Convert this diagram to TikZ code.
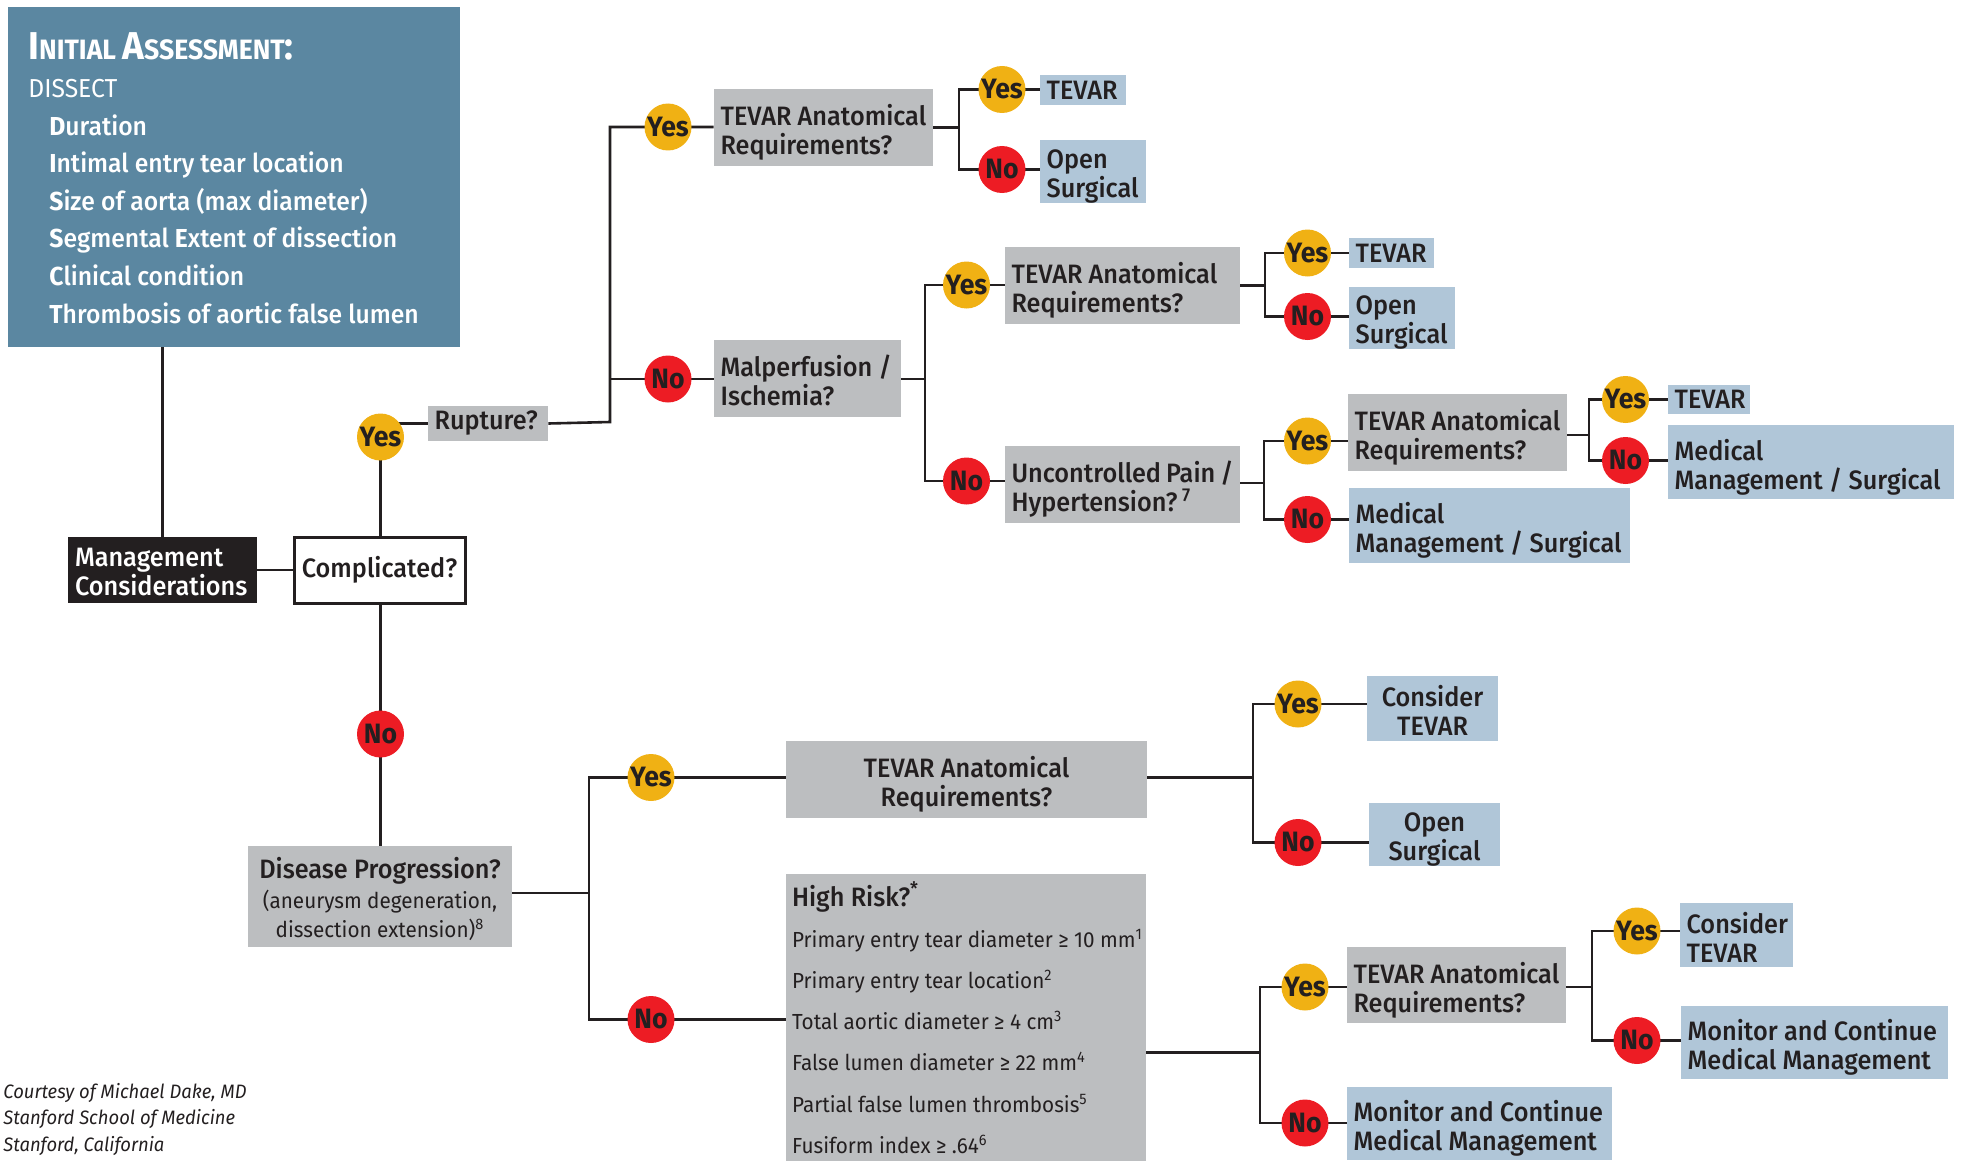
\documentclass[tikz,border=0pt]{standalone}
\usepackage{fontspec}
\setmainfont{Fira Sans}[FakeStretch=0.95]
\newfontfamily\medfont{Fira Sans}[UprightFont=* Medium, BoldFont=* Bold, FakeStretch=0.95]
\usetikzlibrary{backgrounds}

\definecolor{assessblue}{HTML}{5B87A1}
\definecolor{askgray}{HTML}{BCBEC0}
\definecolor{endblue}{HTML}{B0C6D8}
\definecolor{yesgold}{HTML}{F0B114}
\definecolor{nored}{HTML}{ED1C24}
\definecolor{ink}{HTML}{231F20}

\newcommand{\asksize}{\fontsize{13.3pt}{14.5pt}\selectfont}
\newcommand{\notesize}{\fontsize{10.9pt}{15pt}\selectfont}

\begin{document}
\begin{tikzpicture}[x=0.5pt,y=-0.5pt,
   every node/.style={text=ink,font=\medfont\asksize},
   askbox/.style={fill=askgray,inner xsep=3.3pt,inner ysep=0pt,align=flush left},
   endbox/.style={fill=endblue,inner xsep=3.3pt,inner ysep=0pt,align=flush left},
   twoline/.style={text depth=12.5pt},
   yesdot/.style={circle,fill=yesgold,minimum size=23.5pt,inner sep=0pt,font=\medfont\bfseries\fontsize{14pt}{14pt}\selectfont},
   nodot/.style={yesdot,fill=nored},
   link/.style={draw=ink,line width=1.3pt}]
\useasboundingbox (0,0) rectangle (1965,1161);

% initial assessment
\node[fill=assessblue,minimum width=226pt,minimum height=170pt,inner sep=0pt] (assess) at (234,177) {};
\node[anchor=base west,text=white,text width=210pt,align=flush left,inner sep=0pt,font=\medfont\fontsize{13pt}{18.8pt}\selectfont] (dissect) at (28,60)
  {{\bfseries\fontsize{19.4pt}{18.8pt}\selectfont I\fontsize{14pt}{18.8pt}\selectfont NITIAL \fontsize{19.4pt}{18.8pt}\selectfont A\fontsize{14pt}{18.8pt}\selectfont SSESSMENT\fontsize{19.4pt}{18.8pt}\selectfont:}\\
   {\rmfamily DISSECT}\\
   \hspace*{10.5pt}\textbf{D}uration\\
   \hspace*{10.5pt}\textbf{I}ntimal entry tear location\\
   \hspace*{10.5pt}\textbf{S}ize of aorta (max diameter)\\
   \hspace*{10.5pt}\textbf{S}egmental \textbf{E}xtent of dissection\\
   \hspace*{10.5pt}\textbf{C}linical condition\\
   \hspace*{10.5pt}\textbf{T}hrombosis of aortic false lumen};

% root
\node[twoline,fill=ink,text=white,minimum width=94.5pt,minimum height=33pt,text width=87.5pt,inner xsep=3.5pt,inner ysep=0pt,align=flush left] (mgmt) at (162.5,570) {Management\\Considerations};
\node[draw=ink,line width=1.5pt,fill=white,minimum width=85.5pt,minimum height=33pt] (complicated) at (379.5,570) {Complicated?};
\node[yesdot] (cy) at (380.5,437) {Yes};
\node[nodot] (cn) at (380.5,734) {No};
\node[askbox,minimum width=60pt,minimum height=17.5pt,text width=53.4pt] (rupture) at (488,423.5) {Rupture?};
\node[askbox,align=flush center,text depth=28.4pt,minimum width=132pt,minimum height=50.5pt,text width=125.4pt] (disease) at (380,896.5)
  {Disease~Progression?\\\rmfamily\notesize(aneurysm~degeneration,\\dissection~extension)\textsuperscript{8}};

% complicated, yes
\coordinate (jr) at (610,422);
\node[yesdot] (ry) at (668,127) {Yes};
\node[nodot] (rn) at (668,379) {No};
\node[askbox,twoline,minimum width=109.5pt,minimum height=38.5pt,text width=102.9pt] (tevarA) at (823.5,127.5) {TEVAR~Anatomical\\Requirements?};
\node[askbox,twoline,minimum width=93.5pt,minimum height=38.5pt,text width=86.9pt] (malp) at (807.5,378.5) {Malperfusion~/\\Ischemia?};

\coordinate (ja) at (959,127.5);
\node[yesdot] (ay) at (1002,89.5) {Yes};
\node[nodot] (an) at (1002,169.5) {No};
\node[endbox,minimum width=43pt,minimum height=15pt,text width=36.4pt] (tevar1) at (1083,90) {TEVAR};
\node[endbox,twoline,minimum width=53pt,minimum height=31.5pt,text width=46.4pt] (open1) at (1093,171.5) {Open\\Surgical};

\coordinate (jm) at (925,379);
\node[yesdot] (my) at (966.5,285) {Yes};
\node[nodot] (mn) at (966.5,481) {No};
\node[askbox,twoline,minimum width=117.5pt,minimum height=38.5pt,text width=110.9pt] (tevarB) at (1122.5,285.5) {TEVAR~Anatomical\\Requirements?};
\node[askbox,twoline,minimum width=117.5pt,minimum height=38.5pt,text width=110.9pt] (pain) at (1122.5,484.5) {Uncontrolled~Pain~/\\Hypertension?\,\textsuperscript{7}};

\coordinate (jb) at (1265,285.5);
\node[yesdot] (by) at (1307.5,253) {Yes};
\node[nodot] (bn) at (1307.5,316.5) {No};
\node[endbox,minimum width=42.5pt,minimum height=15pt,text width=35.9pt] (tevar2) at (1391.5,253) {TEVAR};
\node[endbox,twoline,minimum width=53pt,minimum height=31pt,text width=46.4pt] (open2) at (1402,318) {Open\\Surgical};

\coordinate (jp) at (1264,483);
\node[yesdot] (py) at (1307.5,441) {Yes};
\node[nodot] (pn) at (1307.5,519.5) {No};
\node[askbox,twoline,minimum width=109.5pt,minimum height=38.5pt,text width=102.9pt] (tevarC) at (1457.5,432.5) {TEVAR~Anatomical\\Requirements?};
\node[endbox,twoline,minimum width=140.5pt,minimum height=37.5pt,text width=133.9pt] (medical2) at (1489.5,525.5) {Medical\\Management~/~Surgical};

\coordinate (jk) at (1589,435);
\node[yesdot] (ky) at (1625.5,399.5) {Yes};
\node[nodot] (kn) at (1625.5,460.5) {No};
\node[endbox,minimum width=41pt,minimum height=14.5pt,text width=34.4pt] (tevar3) at (1709,399.5) {TEVAR};
\node[endbox,twoline,minimum width=143pt,minimum height=37pt,text width=136.4pt] (medical3) at (1811,462) {Medical\\Management~/~Surgical};

% complicated, no
\coordinate (jd) at (589,893);
\node[yesdot] (dy) at (651,777.5) {Yes};
\node[nodot] (dn) at (651,1019.5) {No};
\node[askbox,twoline,align=flush center,minimum width=180.5pt,minimum height=38.5pt,text width=173.9pt] (tevarD) at (966.5,779.5) {TEVAR Anatomical\\Requirements?};
\node[askbox,minimum width=180pt,minimum height=143.5pt,inner sep=0pt] (highrisk) at (966,1017.5) {};
\node[anchor=base west,text width=200pt,align=flush left,inner sep=0pt,font=\rmfamily\fontsize{10.9pt}{20.6pt}\selectfont] (riskitems) at (791.7,906)
  {{\medfont\asksize High Risk?\textsuperscript{*}}\\
   Primary entry tear diameter ≥ 10 mm\textsuperscript{1}\\
   Primary entry tear location\textsuperscript{2}\\
   Total aortic diameter ≥ 4 cm\textsuperscript{3}\\
   False lumen diameter ≥ 22 mm\textsuperscript{4}\\
   Partial false lumen thrombosis\textsuperscript{5}\\
   Fusiform index ≥ .64\textsuperscript{6}};

\coordinate (jt) at (1253,777.5);
\node[yesdot] (ty) at (1298,704) {Yes};
\node[nodot] (tn) at (1298,842.5) {No};
\node[endbox,twoline,align=flush center,minimum width=65.5pt,minimum height=32.5pt,text width=58.9pt] (consider4) at (1432.5,708.5) {Consider\\TEVAR};
\node[endbox,twoline,align=flush center,minimum width=65.5pt,minimum height=31.5pt,text width=58.9pt] (open4) at (1434.5,834.5) {Open\\Surgical};

\coordinate (jh) at (1260,1052.5);
\node[yesdot] (hy) at (1305,987) {Yes};
\node[nodot] (hn) at (1305,1123) {No};
\node[askbox,twoline,minimum width=109.5pt,minimum height=38pt,text width=102.9pt] (tevarE) at (1456.5,985) {TEVAR~Anatomical\\Requirements?};
\node[endbox,twoline,minimum width=132.5pt,minimum height=36.5pt,text width=125.9pt] (monitor4) at (1479.5,1123.5) {Monitor~and~Continue\\Medical~Management};

\coordinate (je) at (1592,987);
\node[yesdot] (ey) at (1637,931) {Yes};
\node[nodot] (en) at (1637,1040.5) {No};
\node[endbox,twoline,minimum width=56.5pt,minimum height=32pt,text width=49.9pt] (consider5) at (1736.5,935) {Consider\\TEVAR};
\node[endbox,twoline,minimum width=133.5pt,minimum height=36.5pt,text width=126.9pt] (monitor5) at (1814.5,1042.5) {Monitor~and~Continue\\Medical~Management};

\node[anchor=base west,text width=200pt,align=flush left,inner sep=0pt,font=\rmfamily\itshape\fontsize{9.7pt}{13.25pt}\selectfont] (credit) at (3,1098)
  {Courtesy of Michael Dake, MD\\Stanford School of Medicine\\Stanford, California};

\begin{scope}[on background layer]
  \draw[link] (mgmt.north) -- (mgmt.north |- assess.south);
  \draw[link] (mgmt.east) -- (complicated.west);
  \draw[link] (complicated.north -| cy) -- (cy |- rupture.west) -- (rupture.west);
  \draw[link] (complicated.south -| cn) -- (disease.north -| cn);
  \draw[link] (rupture.east) -- (jr) -- (ry -| jr) -- (tevarA.west |- ry);
  \draw[link] (rn -| jr) -- (malp.west |- rn);
  \draw[link] (tevarA.east |- ja) -- (ja);
  \draw[link] (tevar1.west |- ay) -- (ay -| ja) -- (an -| ja) -- (open1.west |- an);
  \draw[link] (malp.east |- jm) -- (jm);
  \draw[link] (tevarB.west |- my) -- (my -| jm) -- (mn -| jm) -- (pain.west |- mn);
  \draw[link] (tevarB.east |- jb) -- (jb);
  \draw[link] (tevar2.west |- by) -- (by -| jb) -- (bn -| jb) -- (open2.west |- bn);
  \draw[link] (pain.east |- jp) -- (jp);
  \draw[link] (tevarC.west |- py) -- (py -| jp) -- (pn -| jp) -- (medical2.west |- pn);
  \draw[link] (tevarC.east |- jk) -- (jk);
  \draw[link] (tevar3.west |- ky) -- (ky -| jk) -- (kn -| jk) -- (medical3.west |- kn);
  \draw[link] (disease.east |- jd) -- (jd);
  \draw[link] (tevarD.west |- dy) -- (dy -| jd) -- (dn -| jd) -- (highrisk.west |- dn);
  \draw[link] (tevarD.east |- jt) -- (jt);
  \draw[link] (consider4.west |- ty) -- (ty -| jt) -- (tn -| jt) -- (open4.west |- tn);
  \draw[link] (highrisk.east |- jh) -- (jh);
  \draw[link] (tevarE.west |- hy) -- (hy -| jh) -- (hn -| jh) -- (monitor4.west |- hn);
  \draw[link] (tevarE.east |- je) -- (je);
  \draw[link] (consider5.west |- ey) -- (ey -| je) -- (en -| je) -- (monitor5.west |- en);
\end{scope}
\end{tikzpicture}
\end{document}
